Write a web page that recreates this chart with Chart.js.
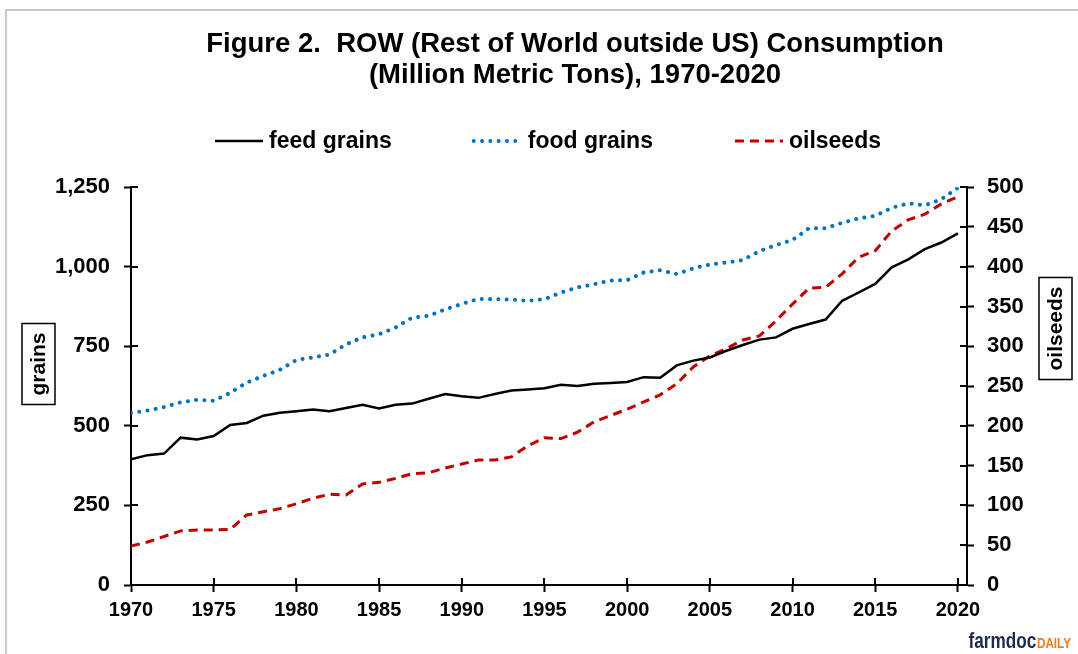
<!DOCTYPE html>
<html>
<head>
<meta charset="utf-8">
<script src="https://cdn.jsdelivr.net/npm/chart.js@4/dist/chart.umd.min.js"></script>
<style>
  body { margin: 0; background: #fff; }
  canvas { display: block; }
</style>
</head>
<body>
<canvas id="chart" width="1078" height="654"></canvas>
<script>
/** DATA */

const years = [];
for (let y = 1970; y <= 2020; y++) years.push(y);

const feedGrains = [
    395, 408, 413, 463, 457, 468, 503, 509, 532, 541,
    546, 551, 546, 556, 566, 555, 566, 570, 585, 600,
    593, 588, 600, 611, 614, 618, 629, 625, 632, 635,
    638, 653, 651, 690, 705, 715, 736, 754, 771, 778,
    805, 820, 834, 893, 919, 946, 998, 1023, 1055, 1076,
    1105
];

const foodGrains = [
    541, 548, 559, 574, 582, 579, 604, 636, 657, 676,
    707, 715, 724, 756, 778, 788, 809, 840, 846, 866,
    883, 899, 898, 897, 893, 898, 919, 935, 945, 957,
    958, 982, 989, 977, 995, 1007, 1013, 1021, 1049, 1068,
    1084, 1121, 1121, 1138, 1152, 1160, 1185, 1199, 1193, 1212,
    1248
];

const oilseeds = [
    49, 54, 61, 68, 69, 69, 70, 88, 92, 96,
    102, 109, 114, 113, 127, 129, 134, 140, 141, 147,
    152, 157, 157, 161, 175, 185, 184, 192, 205, 213,
    221, 230, 239, 253, 274, 288, 297, 308, 313, 332,
    353, 373, 374, 391, 412, 420, 445, 459, 466, 479,
    488
];

const seriesNames = ['feed grains', 'food grains', 'oilseeds'];
const grainTicks = [0, 250, 500, 750, 1000, 1250];
const oilseedTicks = [0, 50, 100, 150, 200, 250, 300, 350, 400, 450, 500];
const yearTicks = [1970, 1975, 1980, 1985, 1990, 1995, 2000, 2005, 2010, 2015, 2020];

/** CHART */

const FONT = "'Liberation Sans', Arial, sans-serif";

const toPoints = (values) => values.map((v, i) => ({ x: years[i], y: v }));

const fixTicks = (list) => (scale) => {
    scale.ticks = list.map(v => ({ value: v }));
};

const xTickFont = { family: FONT, size: 20, weight: 'bold' };
const yTickFont = { family: FONT, size: 22, weight: 'bold' };
const axisGrid = { drawOnChartArea: false, tickLength: 7, tickWidth: 2, tickColor: '#000' };

// grey frame, legend, boxed axis titles, inner tick marks, logo
const decorations = {
    id: 'decorations',
    beforeDraw(chart) {
        const ctx = chart.ctx;
        ctx.save();
        ctx.fillStyle = '#fff';
        ctx.fillRect(0, 0, chart.width, chart.height);
        ctx.strokeStyle = '#c8c8c8';
        ctx.lineWidth = 2;
        ctx.strokeRect(6, 10, chart.width + 20, chart.height + 20);
        ctx.restore();
    },
    afterDraw(chart) {
        const ctx = chart.ctx;
        const area = chart.chartArea;
        ctx.save();

        // inner half of the tick marks
        ctx.strokeStyle = '#000';
        ctx.lineWidth = 2;
        ctx.beginPath();
        chart.scales.y.ticks.forEach(t => {
            const py = Math.round(chart.scales.y.getPixelForValue(t.value));
            ctx.moveTo(area.left, py);
            ctx.lineTo(area.left + 7, py);
        });
        chart.scales.y1.ticks.forEach(t => {
            const py = Math.round(chart.scales.y1.getPixelForValue(t.value));
            ctx.moveTo(area.right, py);
            ctx.lineTo(area.right - 7, py);
        });
        chart.scales.x.ticks.forEach(t => {
            const px = Math.round(chart.scales.x.getPixelForValue(t.value));
            ctx.moveTo(px, area.bottom);
            ctx.lineTo(px, area.bottom - 7);
        });
        ctx.stroke();

        // legend
        ctx.font = `bold 23px ${FONT}`;
        ctx.textBaseline = 'middle';
        ctx.textAlign = 'left';
        const sample = 48, gap = 6, spacing = 82, legendY = 141, legendCenter = 548;
        const widths = chart.data.datasets.map(d => sample + gap + ctx.measureText(d.label).width);
        const total = widths.reduce((a, b) => a + b, 0) + spacing * (widths.length - 1);
        let x = legendCenter - total / 2;
        chart.data.datasets.forEach((d, i) => {
            ctx.save();
            ctx.strokeStyle = d.borderColor;
            ctx.lineWidth = d.borderWidth;
            ctx.lineCap = d.borderCapStyle || 'butt';
            ctx.setLineDash(d.borderDash || []);
            ctx.beginPath();
            ctx.moveTo(x, legendY);
            ctx.lineTo(x + sample, legendY);
            ctx.stroke();
            ctx.restore();
            ctx.fillStyle = '#000';
            ctx.fillText(d.label, x + sample + gap, legendY + 1);
            x += widths[i] + spacing;
        });

        // boxed axis titles
        const boxedTitle = (text, cx, cy) => {
            ctx.save();
            ctx.translate(cx, cy);
            ctx.rotate(-Math.PI / 2);
            ctx.font = `bold 21px ${FONT}`;
            ctx.textAlign = 'center';
            ctx.textBaseline = 'middle';
            const w = ctx.measureText(text).width + 18;
            ctx.strokeStyle = '#000';
            ctx.lineWidth = 1.5;
            ctx.strokeRect(-w / 2, -16.5, w, 33);
            ctx.fillStyle = '#000';
            ctx.fillText(text, 0, 1);
            ctx.restore();
        };
        boxedTitle('grains', 38.5, 364);
        boxedTitle('oilseeds', 1055.5, 328.5);

        // logo
        ctx.save();
        ctx.translate(1071, 648);
        ctx.scale(0.78, 1);
        ctx.textBaseline = 'alphabetic';
        ctx.textAlign = 'right';
        ctx.font = `bold 15px ${FONT}`;
        ctx.fillStyle = '#f07d1e';
        ctx.fillText('DAILY', 0, 0);
        const dailyW = ctx.measureText('DAILY').width;
        ctx.font = `bold 22px ${FONT}`;
        ctx.fillStyle = '#1f2a4a';
        ctx.fillText('farmdoc', -dailyW - 1, 0);
        ctx.restore();

        ctx.restore();
    }
};

new Chart(document.getElementById('chart'), {
    type: 'line',
    data: {
        datasets: [
            {
                label: seriesNames[0],
                data: toPoints(feedGrains),
                borderColor: '#000000',
                borderWidth: 2.5,
                yAxisID: 'y'
            },
            {
                label: seriesNames[1],
                data: toPoints(foodGrains),
                borderColor: '#0070C0',
                borderWidth: 4,
                borderDash: [0.01, 8.3],
                borderCapStyle: 'round',
                yAxisID: 'y'
            },
            {
                label: seriesNames[2],
                data: toPoints(oilseeds),
                borderColor: '#C00000',
                borderWidth: 3,
                borderDash: [9, 6],
                yAxisID: 'y1'
            }
        ]
    },
    plugins: [decorations],
    options: {
        responsive: false,
        animation: false,
        // negative right padding shifts the centred title to the right, like the original
        layout: { padding: { left: 0, right: -72, top: 0, bottom: 0 } },
        elements: {
            point: { radius: 0 },
            line: { tension: 0 }
        },
        plugins: {
            legend: { display: false },
            tooltip: { enabled: false },
            title: {
                display: true,
                text: ['Figure 2.  ROW (Rest of World outside US) Consumption', '(Million Metric Tons), 1970-2020'],
                color: '#000',
                font: { family: FONT, size: 27.5, weight: 'bold', lineHeight: 1.13 },
                padding: { top: 28.5, bottom: 96.5 }
            }
        },
        scales: {
            x: {
                type: 'linear',
                min: 1970,
                max: 2020.55,
                afterBuildTicks: fixTicks(yearTicks),
                afterFit: (s) => { s.height = 69; },
                border: { color: '#000', width: 2 },
                grid: axisGrid,
                ticks: { color: '#000', font: xTickFont, padding: 6, maxRotation: 0, callback: v => String(v) }
            },
            y: {
                position: 'left',
                min: 0,
                max: 1250,
                afterBuildTicks: fixTicks(grainTicks),
                afterFit: (s) => { s.width = 131; },
                border: { color: '#000', width: 2 },
                grid: axisGrid,
                ticks: { color: '#000', font: yTickFont, padding: 14, callback: v => v.toLocaleString('en-US') }
            },
            y1: {
                position: 'right',
                min: 0,
                max: 500,
                afterBuildTicks: fixTicks(oilseedTicks),
                afterFit: (s) => { s.width = 1078 + 72 - 967; },
                border: { color: '#000', width: 2 },
                grid: axisGrid,
                ticks: { color: '#000', font: yTickFont, padding: 13, callback: v => String(v) }
            }
        }
    }
});
</script>
</body>
</html>
